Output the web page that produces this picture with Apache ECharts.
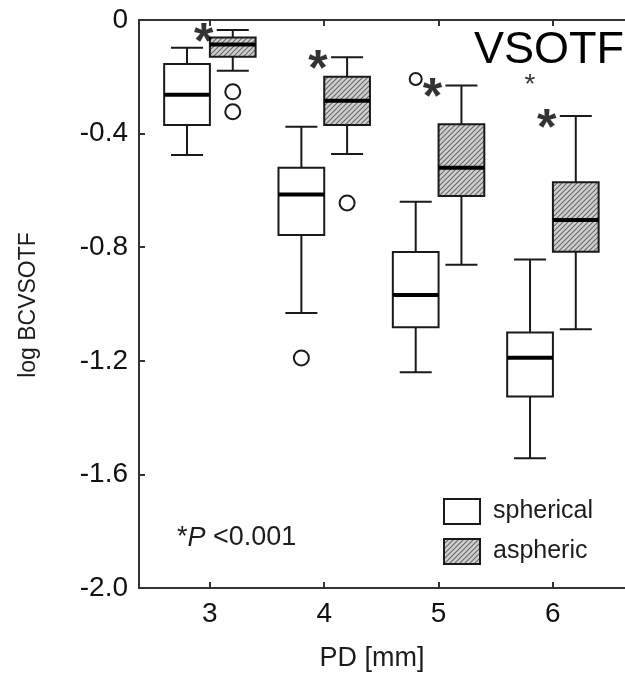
<!DOCTYPE html>
<html>
<head>
<meta charset="utf-8">
<script src="https://cdn.jsdelivr.net/npm/echarts@6/dist/echarts.min.js"></script>
<style>
  html, body { margin: 0; padding: 0; background: #fff; }
  #chart { width: 625px; height: 677px; }
</style>
</head>
<body>
<div id="chart"></div>
<script>
  // pupil diameters (mm)
  const pdValues = [3, 4, 5, 6];

  // spherical IOL box plots (log BCVSOTF)
  const sphericalHigh   = [-0.098, -0.376, -0.640, -0.843];
  const sphericalQ3     = [-0.155, -0.520, -0.817, -1.100];
  const sphericalMedian = [-0.263, -0.614, -0.968, -1.189];
  const sphericalQ1     = [-0.370, -0.757, -1.082, -1.326];
  const sphericalLow    = [-0.475, -1.032, -1.240, -1.543];

  // aspheric IOL box plots
  const asphericHigh   = [-0.035, -0.131, -0.231, -0.338];
  const asphericQ3     = [-0.062, -0.200, -0.367, -0.571];
  const asphericMedian = [-0.086, -0.284, -0.520, -0.704];
  const asphericQ1     = [-0.129, -0.370, -0.620, -0.816];
  const asphericLow    = [-0.179, -0.472, -0.862, -1.089];

  // outliers [pd, value]
  const sphericalOutliers = [[4, -1.19], [5, -0.208]];
  const sphericalExtremes = [[6, -0.208]];
  const asphericOutliers  = [[3, -0.253], [3, -0.323], [4, -0.644]];

  const ink = '#1a1a1a';
  const font = 'Liberation Sans, Arial, sans-serif';

  // hatched grey fill for the aspheric boxes
  function makeHatch() {
    const c = document.createElement('canvas');
    c.width = 5; c.height = 5;
    const g = c.getContext('2d');
    g.fillStyle = '#d0d0d0';
    g.fillRect(0, 0, 5, 5);
    g.strokeStyle = '#666';
    g.lineWidth = 1.1;
    g.beginPath();
    g.moveTo(-1, 6); g.lineTo(6, -1);
    g.moveTo(-4, 4); g.lineTo(4, -4);
    g.moveTo(1, 9); g.lineTo(9, 1);
    g.stroke();
    return { image: c, repeat: 'repeat' };
  }
  const hatch = makeHatch();

  function boxData(low, q1, med, q3, high) {
    return pdValues.map((pd, i) => [pd, low[i], q1[i], med[i], q3[i], high[i]]);
  }

  function boxRenderer(offset, fill) {
    return function (params, api) {
      const x = api.value(0) + offset;
      const cx = api.coord([x, 0])[0];
      const left = api.coord([x - 0.2, 0])[0];
      const right = api.coord([x + 0.2, 0])[0];
      const capL = api.coord([x - 0.14, 0])[0];
      const capR = api.coord([x + 0.14, 0])[0];
      const yLow = api.coord([x, api.value(1)])[1];
      const yQ1 = api.coord([x, api.value(2)])[1];
      const yMed = api.coord([x, api.value(3)])[1];
      const yQ3 = api.coord([x, api.value(4)])[1];
      const yHigh = api.coord([x, api.value(5)])[1];
      const ls = { stroke: ink, lineWidth: 2 };
      return {
        type: 'group',
        children: [
          { type: 'line', shape: { x1: cx, y1: yQ3, x2: cx, y2: yHigh }, style: ls },
          { type: 'line', shape: { x1: cx, y1: yQ1, x2: cx, y2: yLow }, style: ls },
          { type: 'line', shape: { x1: capL, y1: yHigh, x2: capR, y2: yHigh }, style: ls },
          { type: 'line', shape: { x1: capL, y1: yLow, x2: capR, y2: yLow }, style: ls },
          { type: 'rect', shape: { x: left, y: yQ3, width: right - left, height: yQ1 - yQ3 },
            style: { fill: fill, stroke: ink, lineWidth: 2 } },
          { type: 'line', shape: { x1: left, y1: yMed, x2: right, y2: yMed },
            style: { stroke: '#000', lineWidth: 4 } }
        ]
      };
    };
  }

  const chart = echarts.init(document.getElementById('chart'), null, { renderer: 'canvas' });

  const axisLineStyle = { color: '#333', width: 2 };

  chart.setOption({
    backgroundColor: '#fff',
    animation: false,
    grid: { left: 139, top: 20, width: 488, height: 568, outerBoundsMode: 'none', containLabel: false },
    legend: {
      orient: 'vertical',
      left: 443,
      top: 498,
      padding: 0,
      itemWidth: 36,
      itemHeight: 25,
      itemGap: 13,
      selectedMode: false,
      textStyle: { fontSize: 25, color: '#1c1c1c', fontFamily: font, padding: [0, 0, 0, 8] },
      data: [
        { name: 'spherical', icon: 'rect', itemStyle: { color: '#fff', borderColor: ink, borderWidth: 2 } },
        { name: 'aspheric', icon: 'rect', itemStyle: { color: hatch, borderColor: ink, borderWidth: 2 } }
      ]
    },
    xAxis: [
      {
        type: 'value',
        position: 'bottom',
        min: 2.38,
        max: 6.648,
        splitLine: { show: false },
        axisLine: { show: true, onZero: false, lineStyle: axisLineStyle },
        axisTick: { show: true, inside: true, length: 6, customValues: pdValues, lineStyle: axisLineStyle },
        axisLabel: { customValues: pdValues, fontSize: 28, color: '#111', fontFamily: font, margin: 12 }
      },
      {
        type: 'value',
        position: 'top',
        min: 2.38,
        max: 6.648,
        splitLine: { show: false },
        axisLine: { show: true, onZero: false, lineStyle: axisLineStyle },
        axisTick: { show: true, inside: true, length: 6, customValues: pdValues, lineStyle: axisLineStyle },
        axisLabel: { show: false }
      }
    ],
    yAxis: {
      type: 'value',
      min: -2,
      max: 0,
      interval: 0.4,
      splitLine: { show: false },
      axisLine: { show: true, lineStyle: axisLineStyle },
      axisTick: { show: true, inside: true, length: 6, lineStyle: axisLineStyle },
      axisLabel: {
        fontSize: 28, color: '#111', fontFamily: font, margin: 11,
        formatter: v => (Math.abs(v) < 1e-9 ? '0' : v.toFixed(1))
      }
    },
    graphic: [
      { type: 'text', x: 29, y: 305, rotation: Math.PI / 2,
        style: { text: 'log BCVSOTF', fontSize: 23, fontFamily: font, fill: '#1c1c1c', align: 'center', verticalAlign: 'middle' } },
      { type: 'text', x: 372, y: 659,
        style: { text: 'PD [mm]', fontSize: 27, fontFamily: font, fill: '#1c1c1c', align: 'center', verticalAlign: 'middle' } },
      { type: 'text', x: 474, y: 51,
        style: { text: 'VSOTF', fontSize: 45, fontFamily: font, fill: '#000', align: 'left', verticalAlign: 'middle' } },
      { type: 'text', x: 177, y: 538,
        style: {
          text: '*{i|P} <0.001', fontSize: 27, fontFamily: font, fill: '#1c1c1c', align: 'left', verticalAlign: 'middle',
          rich: { i: { fontStyle: 'italic', fontSize: 27, fontFamily: font, fill: '#1c1c1c' } }
        } }
    ],
    series: [
      {
        name: 'spherical',
        type: 'custom',
        renderItem: boxRenderer(-0.2, '#fff'),
        encode: { x: 0, y: [1, 2, 3, 4, 5] },
        itemStyle: { color: '#fff', borderColor: ink },
        data: boxData(sphericalLow, sphericalQ1, sphericalMedian, sphericalQ3, sphericalHigh),
        z: 3
      },
      {
        name: 'aspheric',
        type: 'custom',
        renderItem: boxRenderer(0.2, hatch),
        encode: { x: 0, y: [1, 2, 3, 4, 5] },
        itemStyle: { color: hatch, borderColor: ink },
        data: boxData(asphericLow, asphericQ1, asphericMedian, asphericQ3, asphericHigh),
        z: 3
      },
      {
        name: 'spherical outliers',
        type: 'scatter',
        symbol: 'circle',
        symbolSize: (val, p) => (p.dataIndex === 1 ? 12 : 15),
        itemStyle: { color: '#fff', borderColor: ink, borderWidth: 2, opacity: 1 },
        data: sphericalOutliers.map(d => [d[0] - 0.2, d[1]]),
        z: 4
      },
      {
        name: 'aspheric outliers',
        type: 'scatter',
        symbol: 'circle',
        symbolSize: 15,
        itemStyle: { color: '#fff', borderColor: ink, borderWidth: 2, opacity: 1 },
        data: asphericOutliers.map(d => [d[0] + 0.2, d[1]]),
        z: 4
      },
      {
        name: 'extremes',
        type: 'scatter',
        symbolSize: 1,
        itemStyle: { color: 'rgba(0,0,0,0)' },
        label: { show: true, position: 'inside', formatter: '*', fontSize: 28, color: '#000', fontFamily: font, offset: [0, 6] },
        data: sphericalExtremes.map(d => [d[0] - 0.2, d[1]]),
        z: 4
      },
      {
        name: 'significance',
        type: 'scatter',
        symbolSize: 1,
        itemStyle: { color: 'rgba(0,0,0,0)' },
        label: { show: true, position: 'inside', formatter: '*', fontSize: 50, fontWeight: 'bold', color: '#000', fontFamily: font, offset: [-29, 14] },
        data: pdValues.map((pd, i) => [pd + 0.2, asphericHigh[i]]),
        z: 4
      }
    ]
  });
</script>
</body>
</html>
